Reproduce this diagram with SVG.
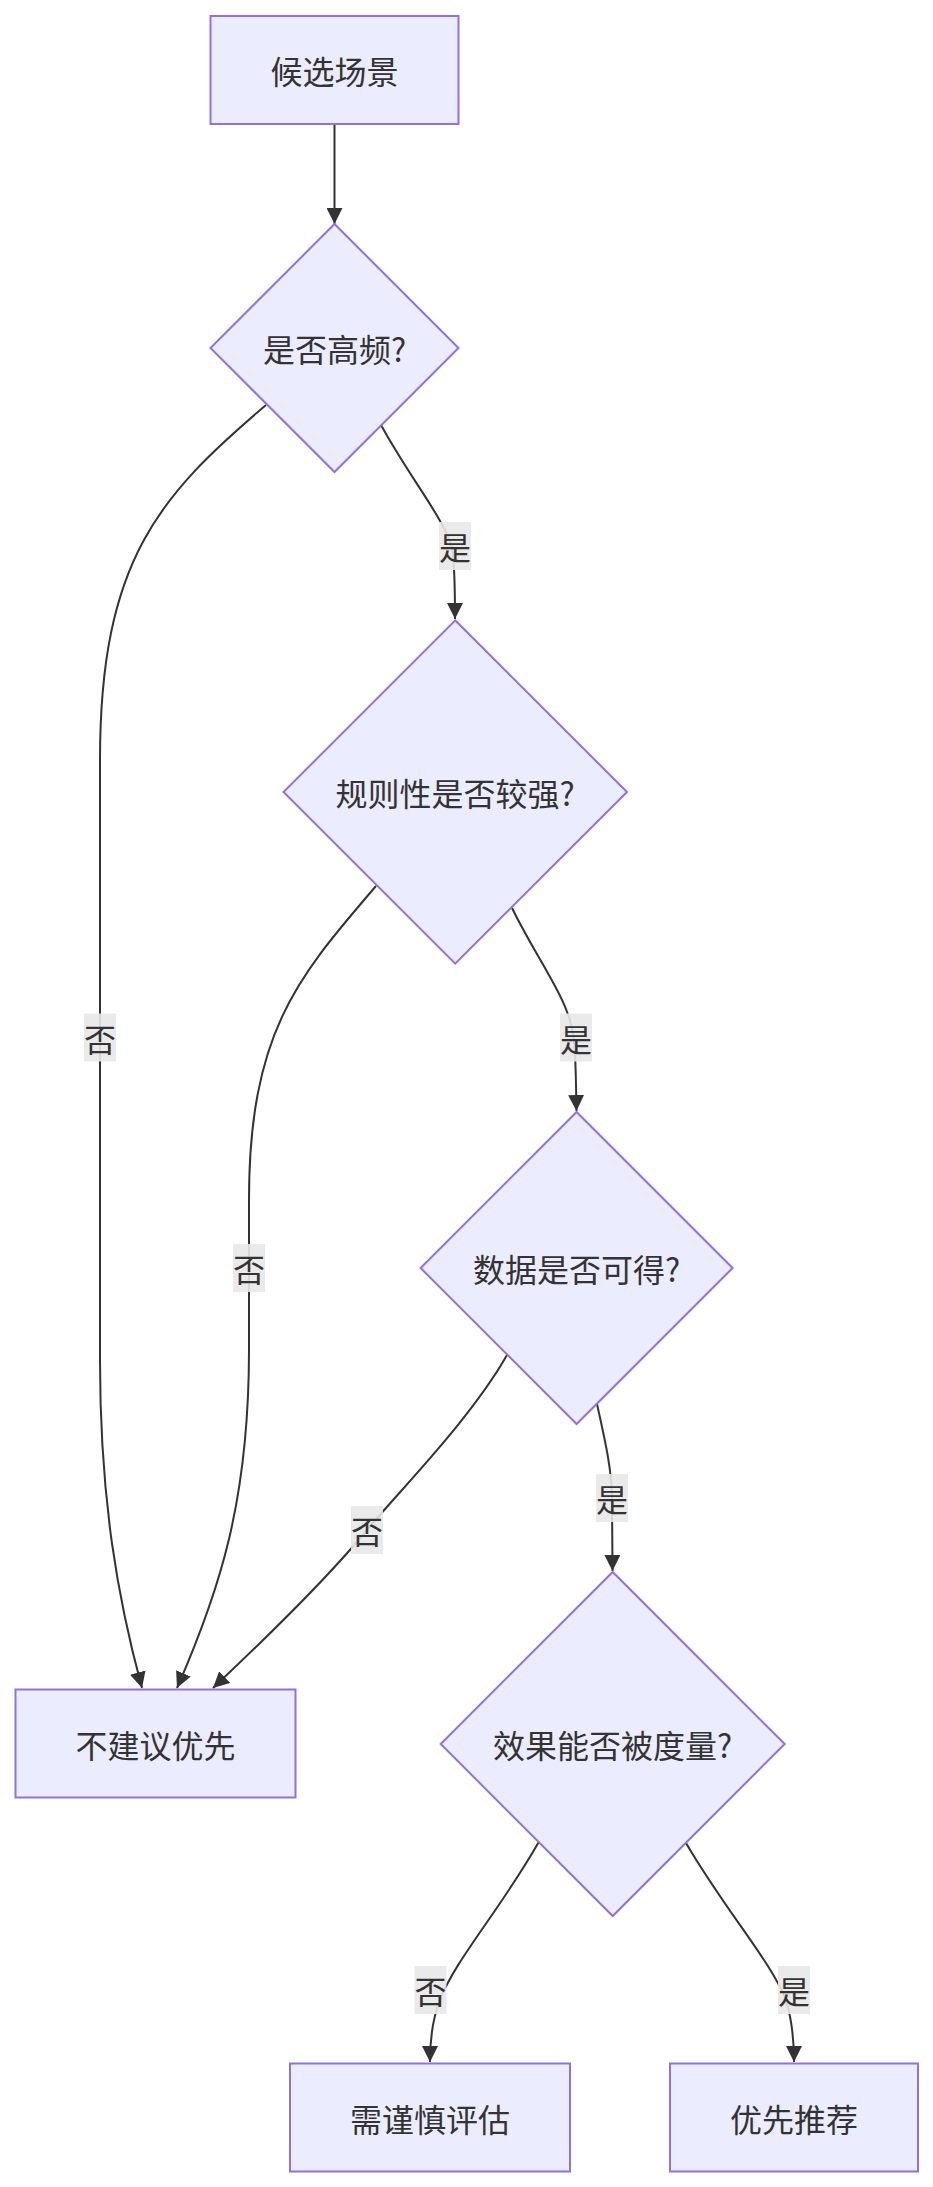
<svg xmlns="http://www.w3.org/2000/svg" width="933" height="2187" viewBox="0 0 933 2187">
<style>
.node rect, .node polygon { fill: #ECECFF; stroke: #9370DB; stroke-width: 2; }
.node text, .elabel text { font-family: "Noto Sans CJK SC", "Noto Sans", sans-serif; font-size: 32px; fill: #333333; text-anchor: middle; dominant-baseline: central; }
.edge { fill: none; stroke: #333333; stroke-width: 2; }
.elabel rect { fill: #E8E8E8; fill-opacity: 0.9; }
</style>
<defs>
<marker id="arrow" viewBox="0 0 10 10" refX="10" refY="5" markerUnits="userSpaceOnUse" markerWidth="16" markerHeight="16" orient="auto">
<path d="M0,0 L10,5 L0,10 z" fill="#333333"/>
</marker>
</defs>
<rect width="933" height="2187" fill="#FFFFFF"/>
<g id="connectors">
<path class="edge" marker-end="url(#arrow)" d="M334.5,124 L334.5,224"/>
<path class="edge" marker-end="url(#arrow)" d="M266,405 C160,495 100,560 100,760 L100,1360 C100,1500 118,1600 142,1688"/>
<path class="edge" marker-end="url(#arrow)" d="M381,425 C410,478 445,520 452,548 C455,565 455,590 455,619"/>
<path class="edge" marker-end="url(#arrow)" d="M376,886 C300,975 249,1030 249,1200 L249,1350 C249,1500 220,1590 177,1688"/>
<path class="edge" marker-end="url(#arrow)" d="M512,908 C540,965 570,1000 574,1040 C576,1060 576,1090 576.5,1111"/>
<path class="edge" marker-end="url(#arrow)" d="M507,1355 C470,1420 400,1490 367,1530 C330,1575 280,1625 213,1688"/>
<path class="edge" marker-end="url(#arrow)" d="M597,1404 C605,1440 612,1470 612,1500 L612.5,1571"/>
<path class="edge" marker-end="url(#arrow)" d="M538.5,1842.5 C500,1910 455,1960 440,2000 C432,2020 430,2040 430,2062"/>
<path class="edge" marker-end="url(#arrow)" d="M686,1843 C725,1910 770,1960 786,2000 C792,2020 794,2040 794,2062"/>
</g>
<g id="edge-labels">
<g class="elabel"><rect x="439" y="522" width="32" height="48"/><text x="455" y="546">是</text></g>
<g class="elabel"><rect x="84" y="1013.5" width="32" height="48"/><text x="100" y="1037.5">否</text></g>
<g class="elabel"><rect x="560" y="1013.5" width="32" height="48"/><text x="576" y="1037.5">是</text></g>
<g class="elabel"><rect x="233" y="1244" width="32" height="48"/><text x="249" y="1268">否</text></g>
<g class="elabel"><rect x="351" y="1506" width="32" height="48"/><text x="367" y="1530">否</text></g>
<g class="elabel"><rect x="596" y="1474" width="32" height="48"/><text x="612" y="1498">是</text></g>
<g class="elabel"><rect x="414.5" y="1966" width="32" height="48"/><text x="430.5" y="1990">否</text></g>
<g class="elabel"><rect x="778" y="1966" width="32" height="48"/><text x="794" y="1990">是</text></g>
</g>
<g id="n-start" class="node"><rect x="210.5" y="16" width="248" height="108"/><text x="334.5" y="70">候选场景</text></g>
<g id="n-freq" class="node"><polygon points="334.5,224 458.5,348 334.5,472 210.5,348"/><text x="334.5" y="348">是否高频?</text></g>
<g id="n-rule" class="node"><polygon points="455.2,620.3 627,792 455.2,963.7 283.5,792"/><text x="455.2" y="792">规则性是否较强?</text></g>
<g id="n-data" class="node"><polygon points="576.6,1112 732.6,1268 576.6,1424 420.6,1268"/><text x="576.6" y="1268">数据是否可得?</text></g>
<g id="n-measure" class="node"><polygon points="612.7,1572 784.7,1744 612.7,1916 440.7,1744"/><text x="612.7" y="1744">效果能否被度量?</text></g>
<g id="n-no" class="node"><rect x="15.5" y="1689.5" width="280" height="108"/><text x="155.5" y="1743.5">不建议优先</text></g>
<g id="n-caution" class="node"><rect x="290" y="2063.5" width="280" height="108"/><text x="430" y="2117.5">需谨慎评估</text></g>
<g id="n-yes" class="node"><rect x="670" y="2063.5" width="248" height="108"/><text x="794" y="2117.5">优先推荐</text></g>
</svg>
